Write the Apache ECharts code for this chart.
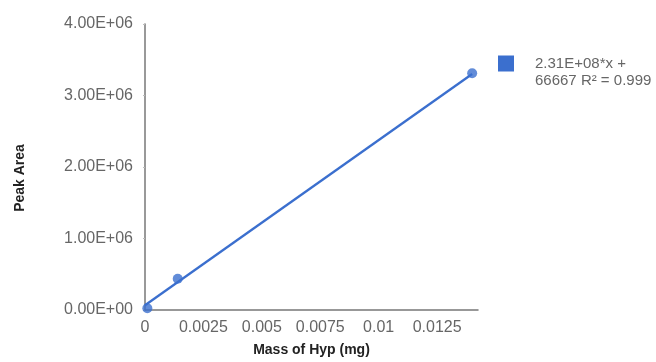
<!DOCTYPE html>
<html>
<head>
<meta charset="utf-8">
<script src="https://cdn.jsdelivr.net/npm/echarts@6/dist/echarts.min.js"></script>
<style>html,body{margin:0;padding:0;background:#fff}#c{width:656px;height:362px}</style>
</head>
<body>
<div id="c"></div>
<script>
var points = [[0.0001, 25000], [0.0014, 437000], [0.014, 3310000]];
var trendLine = [[0, 66667], [0.014, 3300000]];
var trendLabel = '2.31E+08*x +\n66667 R\u00b2 = 0.999';
var xTicks = [0, 0.0025, 0.005, 0.0075, 0.01, 0.0125];
var yTicks = ['0.00E+00', '1.00E+06', '2.00E+06', '3.00E+06', '4.00E+06'];
var color = '#3b6fce';
var font = 'Arial, "Liberation Sans", sans-serif';

var chart = echarts.init(document.getElementById('c'));
chart.setOption({
  animation: false,
  grid: {left: 145, right: 178, top: 24, bottom: 48, containLabel: false},
  legend: {
    left: 498, top: 38, padding: 0,
    icon: 'rect', itemWidth: 16, itemHeight: 16,
    data: ['trend'],
    formatter: function () { return '\n' + trendLabel; },
    textStyle: {fontFamily: font, fontSize: 15, lineHeight: 17, color: '#666', padding: [0, 0, 0, 16]}
  },
  xAxis: {
    type: 'value', min: 0, max: 0.01425, interval: 0.0025,
    name: 'Mass of Hyp (mg)', nameLocation: 'middle', nameGap: 33,
    nameTextStyle: {fontFamily: font, fontSize: 14, fontWeight: 'bold', color: '#222'},
    axisLine: {show: true, lineStyle: {color: '#777', width: 1.5}},
    axisTick: {show: false},
    splitLine: {show: false},
    axisLabel: {
      fontFamily: font, fontSize: 16, color: '#666', margin: 10, showMaxLabel: false,
      formatter: function (v) {
        for (var i = 0; i < xTicks.length; i++) { if (Math.abs(v - xTicks[i]) < 1e-9) return String(xTicks[i]); }
        return '';
      }
    }
  },
  yAxis: {
    type: 'value', min: 0, max: 4000000, interval: 1000000,
    name: 'Peak Area', nameLocation: 'middle', nameGap: 118,
    nameTextStyle: {fontFamily: font, fontSize: 14, fontWeight: 'bold', color: '#222', padding: [0, 22, 0, 0]},
    axisLine: {show: true, lineStyle: {color: '#777', width: 1.5}},
    axisTick: {show: true, length: 2, lineStyle: {color: '#bbb'}},
    splitLine: {show: false},
    axisLabel: {
      fontFamily: font, fontSize: 16, color: '#666', margin: 12,
      formatter: function (v) { return yTicks[Math.round(v / 1000000)]; }
    }
  },
  series: [
    {
      name: 'trend', type: 'line', data: trendLine, showSymbol: false, symbol: 'none',
      lineStyle: {color: color, width: 2.3}, itemStyle: {color: color}, silent: true, z: 2
    },
    {
      name: 'points', type: 'scatter', data: points, symbolSize: 10,
      itemStyle: {color: color}, z: 3
    }
  ]
});
</script>
</body>
</html>
